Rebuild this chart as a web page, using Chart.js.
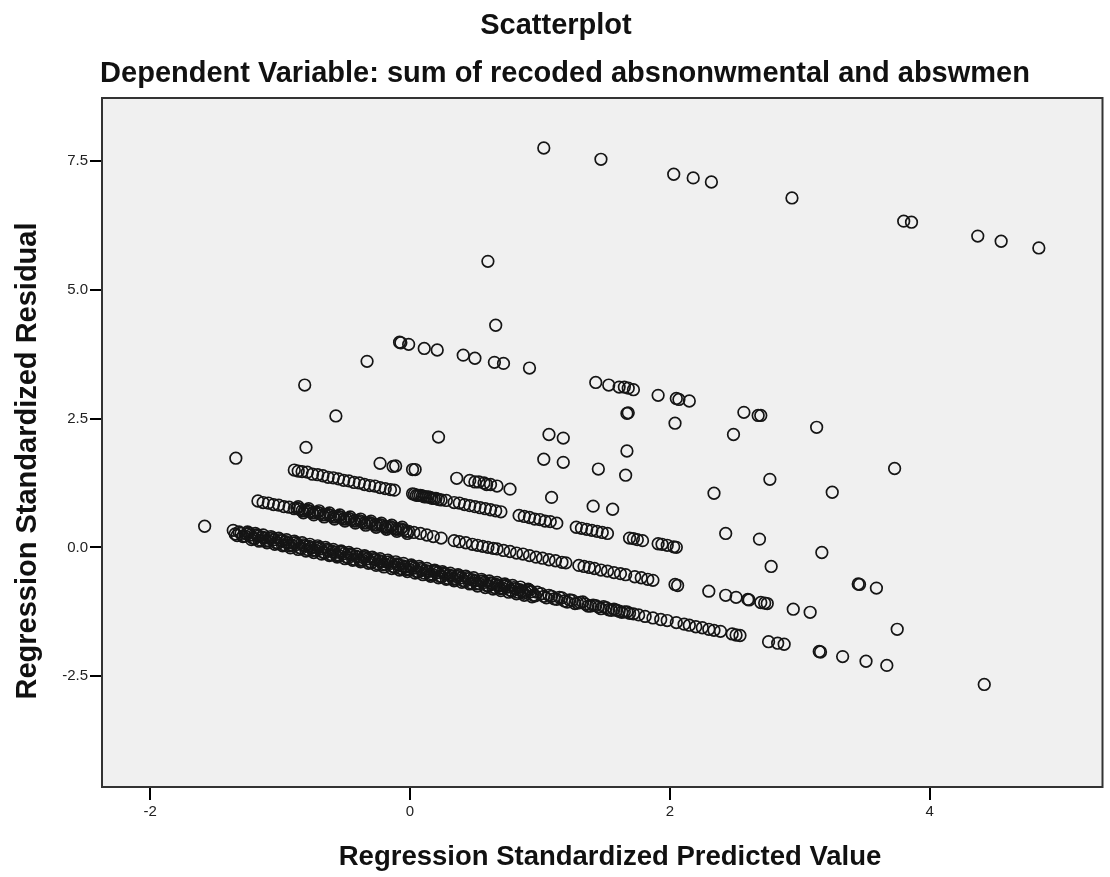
<!DOCTYPE html>
<html lang="en">
<head>
  <meta charset="utf-8" />
  <title>Scatterplot</title>
  <script src="https://cdn.jsdelivr.net/npm/chart.js"></script>
  <style>
    body { margin: 0; background: #fff; }
    #wrap { width: 1110px; height: 877px; }
  </style>
</head>
<body>
  <div id="wrap">
    <canvas id="scatter" width="1110" height="877"></canvas>
  </div>

  <script>
    // axis ticks
    const xTicks = [-2, 0, 2, 4];
    const yTicks = [-2.5, 0, 2.5, 5, 7.5];

    // [predicted, residual] pairs
    const topPoints = [
      [1.03,7.75],[1.47,7.53],[2.03,7.24],[2.18,7.17],[2.32,7.09],[2.94,6.78],
      [3.80,6.33],[3.86,6.31],[4.37,6.04],[4.55,5.94],[4.84,5.81]
    ];

    const upperPoints = [
      [0.60,5.55],[0.66,4.31],[-0.81,3.15],[-0.33,3.61],[-0.08,3.98],[-0.07,3.97],
      [-0.01,3.94],[0.11,3.86],[0.21,3.83],[0.41,3.73],[0.50,3.67],[0.65,3.59],
      [0.72,3.57],[0.92,3.48],[1.43,3.20],[1.53,3.15],[1.61,3.11],[1.65,3.11],
      [1.68,3.09],[1.72,3.06],[1.91,2.95],[2.05,2.89],[2.07,2.87],[2.15,2.84],
      [2.57,2.62],[2.68,2.56],[2.70,2.56],[3.13,2.33]
    ];

    const midPoints = [
      [-1.34,1.73],[-0.57,2.55],[0.22,2.14],[1.07,2.19],[1.18,2.12],[1.03,1.71],
      [1.18,1.65],[1.45,1.52],[1.66,1.40],[1.67,1.87],[1.67,2.60],[1.68,2.61],
      [2.04,2.41],[2.49,2.19],[2.34,1.05],[2.77,1.32],[3.25,1.07],[3.73,1.53]
    ];

    const band4 = [
      [-0.80,1.94],[-0.23,1.63],[-0.13,1.57],[-0.11,1.58],[0.02,1.51],[0.04,1.51],
      [0.36,1.34],[0.46,1.30],[0.50,1.27],[0.53,1.27],[0.57,1.25],[0.59,1.22],
      [0.62,1.22],[0.67,1.19],[0.77,1.13],[1.09,0.97],[1.41,0.80],[1.56,0.74],
      [2.43,0.27],[2.69,0.16],[3.17,-0.10]
    ];

    const band3 = [
      [-0.89,1.50],[-0.86,1.48],[-0.83,1.47],[-0.79,1.46],[-0.75,1.42],[-0.71,1.41],
      [-0.67,1.39],[-0.63,1.36],[-0.59,1.35],[-0.55,1.33],[-0.51,1.30],[-0.47,1.29],
      [-0.43,1.26],[-0.39,1.25],[-0.35,1.22],[-0.31,1.20],[-0.27,1.19],[-0.23,1.16],
      [-0.19,1.14],[-0.15,1.12],[-0.12,1.11],
      [0.02,1.04],[0.05,1.01],[0.08,1.01],[0.11,0.98],[0.14,0.98],[0.17,0.95],
      [0.20,0.95],[0.24,0.92],[0.28,0.91],[0.34,0.87],[0.38,0.86],[0.42,0.83],
      [0.46,0.81],[0.50,0.79],[0.54,0.77],[0.58,0.75],[0.62,0.73],[0.66,0.71],[0.70,0.69],
      [0.84,0.62],[0.88,0.60],[0.92,0.58],[0.96,0.55],[1.00,0.54],[1.04,0.51],
      [1.08,0.50],[1.13,0.47],
      [1.28,0.39],[1.32,0.37],[1.36,0.35],[1.40,0.33],[1.44,0.31],[1.48,0.29],[1.52,0.27],
      [1.69,0.18],[1.72,0.17],[1.75,0.15],[1.79,0.13],
      [1.91,0.07],[1.94,0.06],[1.98,0.04],[2.03,0.01],[2.05,0.00],
      [2.78,-0.37],[3.45,-0.71],[3.46,-0.72],[3.59,-0.79]
    ];

    const band3Fill = [
      [0.035,1.03],[0.065,1.01],[0.095,1.00],[0.125,0.98],[0.155,0.97],[0.185,0.95],[0.22,0.93]
    ];

    const band2 = [
      [-1.17,0.90],[-1.13,0.87],[-1.09,0.86],[-1.05,0.83],[-1.01,0.82],[-0.97,0.79],
      [-0.93,0.78],[-0.89,0.75],[-0.85,0.74],[-0.81,0.71],[-0.77,0.70],[-0.73,0.67],
      [-0.69,0.66],[-0.65,0.63],[-0.61,0.62],[-0.57,0.59],[-0.53,0.58],[-0.49,0.55],
      [-0.45,0.54],[-0.41,0.51],[-0.37,0.50],[-0.33,0.47],[-0.29,0.46],[-0.25,0.43],
      [-0.21,0.42],[-0.17,0.39],[-0.13,0.38],[-0.09,0.35],[-0.05,0.34],[-0.01,0.31],
      [0.03,0.29],[0.08,0.27],[0.13,0.24],[0.18,0.21],[0.24,0.18],[0.34,0.13],
      [0.38,0.11],[0.43,0.09],[0.48,0.06],[0.52,0.04],[0.56,0.02],[0.60,0.00],
      [0.64,-0.02],[0.67,-0.03],[0.72,-0.06],[0.77,-0.08],[0.82,-0.11],[0.87,-0.13],
      [0.92,-0.16],[0.97,-0.19],[1.02,-0.21],[1.07,-0.24],[1.12,-0.26],[1.17,-0.29],[1.20,-0.30],
      [1.30,-0.35],[1.34,-0.37],[1.38,-0.39],[1.42,-0.41],[1.47,-0.44],[1.52,-0.46],
      [1.57,-0.49],[1.62,-0.51],[1.66,-0.53],
      [1.73,-0.57],[1.78,-0.59],[1.83,-0.62],[1.87,-0.64],
      [2.04,-0.72],[2.06,-0.74],[2.30,-0.85],[2.43,-0.93],[2.51,-0.97],[2.60,-1.01],
      [2.61,-1.02],[2.70,-1.07],[2.73,-1.08],[2.75,-1.09],[2.95,-1.20],[3.08,-1.26],[3.75,-1.59]
    ];

    const band2Fill = [
      [-0.87,0.76],[-0.83,0.71],[-0.79,0.72],[-0.75,0.67],[-0.71,0.68],[-0.67,0.63],
      [-0.63,0.64],[-0.59,0.59],[-0.55,0.60],[-0.51,0.55],[-0.47,0.56],[-0.43,0.51],
      [-0.39,0.52],[-0.35,0.47],[-0.31,0.48],[-0.27,0.43],[-0.23,0.44],[-0.19,0.39],
      [-0.15,0.40],[-0.11,0.35],[-0.07,0.36],[-0.03,0.31]
    ];

    const band2Edge = [
      [-0.86,0.79],[-0.82,0.67],[-0.78,0.75],[-0.74,0.63],[-0.70,0.71],[-0.66,0.59],
      [-0.62,0.67],[-0.58,0.55],[-0.54,0.63],[-0.50,0.51],[-0.46,0.59],[-0.42,0.47],
      [-0.38,0.55],[-0.34,0.43],[-0.30,0.51],[-0.26,0.39],[-0.22,0.47],[-0.18,0.35],
      [-0.14,0.43],[-0.10,0.31],[-0.06,0.39],[-0.02,0.27]
    ];

    const band1 = [
      [-1.58,0.41],
      [-1.36,0.33],[-1.33,0.23],[-1.30,0.27],[-1.27,0.22],[-1.24,0.28],[-1.21,0.18],
      [-1.18,0.24],[-1.15,0.14],[-1.12,0.18],[-1.09,0.13],[-1.06,0.19],[-1.03,0.09],
      [-1.00,0.15],[-0.97,0.05],[-0.94,0.08],[-0.91,0.04],[-0.88,0.09],[-0.85,-0.01],
      [-0.82,0.05],[-0.79,-0.04],[-0.76,-0.01],[-0.73,-0.05],[-0.70,0.00],[-0.67,-0.09],
      [-0.64,-0.04],[-0.61,-0.14],[-0.58,-0.10],[-0.55,-0.15],[-0.52,-0.09],[-0.49,-0.19],
      [-0.46,-0.13],[-0.43,-0.23],[-0.40,-0.19],[-0.37,-0.24],[-0.34,-0.18],[-0.31,-0.28],
      [-0.28,-0.22],[-0.25,-0.32],[-0.22,-0.28],[-0.19,-0.33],[-0.16,-0.28],[-0.13,-0.37],
      [-0.10,-0.32],[-0.07,-0.41],[-0.04,-0.38],[-0.01,-0.42],[0.02,-0.37],[0.05,-0.47],
      [0.08,-0.41],[0.11,-0.50],[0.14,-0.47],[0.17,-0.52],[0.20,-0.46],[0.23,-0.56],
      [0.26,-0.50],[0.29,-0.60],[0.32,-0.56],[0.35,-0.61],[0.38,-0.55],[0.41,-0.65],
      [0.44,-0.59],[0.47,-0.69],[0.50,-0.65],[0.53,-0.70],[0.56,-0.65],[0.59,-0.74],
      [0.62,-0.69],[0.65,-0.78],[0.68,-0.75],[0.71,-0.79],[0.74,-0.74],[0.77,-0.83],
      [0.80,-0.78],[0.83,-0.87],[0.86,-0.85],[0.89,-0.87],[0.92,-0.83],[0.95,-0.93],[0.98,-0.87],
      [1.01,-0.90],[1.05,-0.98],[1.09,-0.95],[1.13,-1.01],[1.17,-0.98],[1.21,-1.06],
      [1.25,-1.03],[1.29,-1.08],[1.33,-1.06],[1.37,-1.14],[1.41,-1.12],[1.45,-1.16],
      [1.49,-1.15],[1.53,-1.21],[1.57,-1.20],[1.61,-1.24],[1.65,-1.25],[1.69,-1.28],
      [1.72,-1.29],[1.76,-1.31],[1.81,-1.34],[1.87,-1.37],[1.93,-1.40],[1.98,-1.42],
      [2.05,-1.46],[2.11,-1.49],[2.15,-1.51],[2.20,-1.54],[2.25,-1.56],[2.30,-1.59],
      [2.34,-1.61],[2.39,-1.63],[2.48,-1.68],[2.51,-1.70],[2.54,-1.71],
      [2.76,-1.83],[2.83,-1.86],[2.88,-1.88],[3.15,-2.02],[3.16,-2.03],[3.33,-2.12],
      [3.51,-2.21],[3.67,-2.29],[4.42,-2.66]
    ];

    const band1Fill = [
      [-1.345,0.26],[-1.315,0.30],[-1.285,0.21],[-1.255,0.26],[-1.225,0.24],[-1.195,0.17],
      [-1.165,0.22],[-1.135,0.20],[-1.105,0.12],[-1.075,0.17],[-1.045,0.15],[-1.015,0.08],
      [-0.985,0.13],[-0.955,0.11],[-0.925,0.03],[-0.895,0.08],[-0.865,0.06],[-0.835,-0.02],
      [-0.805,0.03],[-0.775,0.02],[-0.745,-0.06],[-0.715,-0.01],[-0.685,-0.03],[-0.655,-0.11],
      [-0.625,-0.06],[-0.595,-0.08],[-0.565,-0.16],[-0.535,-0.10],[-0.505,-0.12],[-0.475,-0.20],
      [-0.445,-0.15],[-0.415,-0.17],[-0.385,-0.25],[-0.355,-0.20],[-0.325,-0.22],[-0.295,-0.30],
      [-0.265,-0.24],[-0.235,-0.26],[-0.205,-0.34],[-0.175,-0.29],[-0.145,-0.31],[-0.115,-0.39],
      [-0.085,-0.34],[-0.055,-0.36],[-0.025,-0.43],[0.005,-0.38],[0.035,-0.40],[0.065,-0.48],
      [0.095,-0.43],[0.125,-0.45],[0.155,-0.53],[0.185,-0.47],[0.215,-0.49],[0.245,-0.57],
      [0.275,-0.52],[0.305,-0.54],[0.335,-0.62],[0.365,-0.57],[0.395,-0.59],[0.425,-0.66],
      [0.455,-0.61],[0.485,-0.63],[0.515,-0.71],[0.545,-0.66],[0.575,-0.68],[0.605,-0.75],
      [0.635,-0.70],[0.665,-0.72],[0.695,-0.80],[0.725,-0.75],[0.755,-0.77],[0.785,-0.85],
      [0.815,-0.80],[0.845,-0.82],[0.875,-0.89],[0.905,-0.84],[0.935,-0.86],[0.965,-0.94],
      [1.03,-0.95],[1.07,-0.93],[1.11,-1.00],[1.15,-0.97],[1.19,-1.04],[1.23,-1.02],
      [1.27,-1.09],[1.31,-1.07],[1.35,-1.10],[1.39,-1.14],[1.43,-1.13],[1.47,-1.19],
      [1.51,-1.17],[1.55,-1.22],[1.59,-1.22],[1.63,-1.26],[1.67,-1.25]
    ];

    const band1Edge = [
      [-1.25,0.30],[-1.22,0.15],[-1.19,0.27],[-1.16,0.12],[-1.13,0.24],[-1.10,0.09],
      [-1.07,0.21],[-1.04,0.06],[-1.01,0.18],[-0.98,0.03],[-0.95,0.15],[-0.92,-0.01],
      [-0.89,0.12],[-0.86,-0.04],[-0.83,0.09],[-0.80,-0.07],[-0.77,0.06],[-0.74,-0.10],
      [-0.71,0.03],[-0.68,-0.13],[-0.65,0.00],[-0.62,-0.16],[-0.59,-0.04],[-0.56,-0.19],
      [-0.53,-0.07],[-0.50,-0.22],[-0.47,-0.10],[-0.44,-0.25],[-0.41,-0.13],[-0.38,-0.28],
      [-0.35,-0.16],[-0.32,-0.31],[-0.29,-0.19],[-0.26,-0.35],[-0.23,-0.22],[-0.20,-0.38],
      [-0.17,-0.25],[-0.14,-0.41],[-0.11,-0.28],[-0.08,-0.44],[-0.05,-0.31],[-0.02,-0.47],
      [0.01,-0.34],[0.04,-0.50],[0.07,-0.37],[0.10,-0.53],[0.13,-0.41],[0.16,-0.56],
      [0.19,-0.44],[0.22,-0.59],[0.25,-0.47],[0.28,-0.62],[0.31,-0.50],[0.34,-0.65],
      [0.37,-0.53],[0.40,-0.68],[0.43,-0.56],[0.46,-0.71],[0.49,-0.59],[0.52,-0.75],
      [0.55,-0.62],[0.58,-0.78],[0.61,-0.65],[0.64,-0.81],[0.67,-0.68],[0.70,-0.84],
      [0.73,-0.71],[0.76,-0.87],[0.79,-0.74],[0.82,-0.90],[0.85,-0.77],[0.88,-0.93],
      [0.91,-0.81],[0.94,-0.96]
    ];

    const groups = [topPoints, upperPoints, midPoints, band4, band3, band3Fill,
                    band2, band2Fill, band2Edge, band1, band1Fill, band1Edge];

    const FONT = '"Liberation Sans", Arial, sans-serif';

    // grey plot box, frame and the headings / axis titles
    const frame = {
      id: 'frame',
      beforeDraw(chart) {
        const { ctx, chartArea: a } = chart;
        ctx.save();
        ctx.fillStyle = '#f0f0f0';
        ctx.fillRect(a.left, a.top, a.right - a.left, a.bottom - a.top);
        ctx.restore();
      },
      afterDraw(chart) {
        const { ctx, chartArea: a } = chart;
        ctx.save();
        ctx.strokeStyle = '#333';
        ctx.lineWidth = 2;
        ctx.strokeRect(a.left, a.top, a.right - a.left, a.bottom - a.top);

        ctx.fillStyle = '#111';
        ctx.textAlign = 'center';
        ctx.textBaseline = 'middle';
        ctx.font = 'bold 29px ' + FONT;
        ctx.fillText('Scatterplot', 556, 26);
        ctx.fillText('Dependent Variable: sum of recoded absnonwmental and abswmen', 565, 74);
        ctx.font = 'bold 27.5px ' + FONT;
        ctx.fillText('Regression Standardized Predicted Value', 610, 857);
        ctx.font = 'bold 29px ' + FONT;
        ctx.translate(28, 461);
        ctx.rotate(-Math.PI / 2);
        ctx.fillText('Regression Standardized Residual', 0, 0);
        ctx.restore();
      }
    };

    const pointStyle = {
      showLine: false,
      pointRadius: 5.8,
      pointHoverRadius: 5.8,
      pointBorderWidth: 1.7,
      pointBorderColor: '#151515',
      pointBackgroundColor: 'rgba(0,0,0,0)'
    };

    new Chart(document.getElementById('scatter'), {
      type: 'scatter',
      data: {
        datasets: groups.map(g => Object.assign({
          data: g.map(([x, y]) => ({ x, y }))
        }, pointStyle))
      },
      options: {
        responsive: false,
        animation: false,
        layout: { padding: { top: 98, right: 2, left: 0, bottom: 0 } },
        plugins: { legend: { display: false }, tooltip: { enabled: false } },
        scales: {
          x: {
            type: 'linear', min: -2.37, max: 5.33,
            afterBuildTicks: s => { s.ticks = xTicks.map(v => ({ value: v })); },
            afterFit: s => { s.height = 90; },
            border: { display: false },
            grid: { drawOnChartArea: false, drawTicks: true, tickLength: 13, color: '#000', lineWidth: 2 },
            ticks: { color: '#222', padding: 3, font: { family: FONT, size: 15 }, callback: v => String(v) }
          },
          y: {
            type: 'linear', min: -4.65, max: 8.72,
            afterBuildTicks: s => { s.ticks = yTicks.map(v => ({ value: v })); },
            afterFit: s => { s.width = 102; },
            border: { display: false },
            grid: { drawOnChartArea: false, drawTicks: true, tickLength: 12, color: '#000', lineWidth: 2 },
            ticks: { color: '#222', padding: 2, font: { family: FONT, size: 15 }, callback: v => v.toFixed(1) }
          }
        }
      },
      plugins: [frame]
    });
  </script>
</body>
</html>
